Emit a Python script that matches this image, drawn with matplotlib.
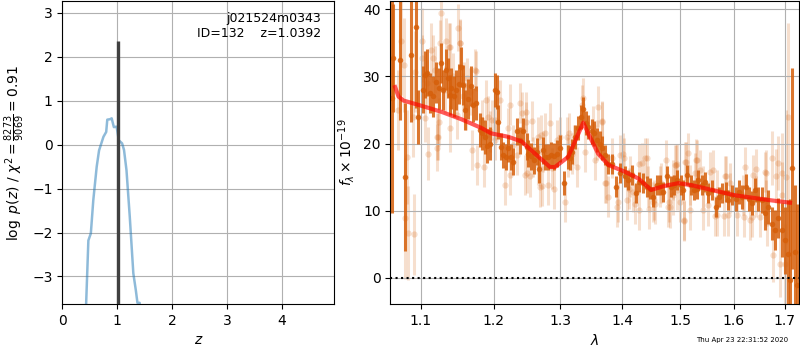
import matplotlib
matplotlib.use('Agg')
import matplotlib.pyplot as plt
from matplotlib.ticker import FixedLocator, NullLocator, FormatStrFormatter

# ---- p(z) panel ----
z_grid = [0.40, 0.434, 0.475, 0.52, 0.565, 0.627, 0.67, 0.75, 0.80, 0.82, 0.87, 0.90,
          0.94, 0.99, 1.03, 1.09, 1.125, 1.17, 1.23, 1.295, 1.34, 1.37, 1.41, 1.43]
logpz = [-4.5, -3.63, -2.18, -2.02, -1.26, -0.5, -0.13, 0.18, 0.29, 0.57, 0.58, 0.6,
         0.4, 0.41, 0.1, 0.03, -0.12, -0.58, -1.64, -2.93, -3.31, -3.6, -3.6, -4.5]
z_bar = 1.015
bar_top = 2.36

# ---- spectrum panel: darker points ----
dark_wave = [1.0629, 1.0642, 1.0727, 1.0799, 1.0869, 1.0942, 1.0964, 1.1030, 1.1053, 1.1087,
             1.1119, 1.1163, 1.1207, 1.1239, 1.1266, 1.1297, 1.1342, 1.1365, 1.1388, 1.1410,
             1.1447, 1.1478, 1.1511, 1.1539, 1.1571, 1.1603, 1.1640, 1.1678, 1.1710, 1.1756,
             1.1804, 1.1837, 1.1875, 1.1912, 1.1946, 1.2026, 1.2047, 1.2070, 1.2109, 1.2142,
             1.2177, 1.2215, 1.2255, 1.2288, 1.2338, 1.2387, 1.2436, 1.2487, 1.2511, 1.2551,
             1.2601, 1.2637, 1.2676, 1.2737, 1.2763, 1.2813, 1.2855, 1.2906, 1.2943, 1.2994,
             1.3061, 1.3114, 1.3151, 1.3187, 1.3229, 1.3282, 1.3325, 1.3361, 1.3400, 1.3442,
             1.3496, 1.3538, 1.3577, 1.3631, 1.3668, 1.3712, 1.3766, 1.3822, 1.3893, 1.3960,
             1.4043, 1.4099, 1.4156, 1.4229, 1.4285, 1.4354, 1.4412, 1.4469, 1.4516, 1.4585,
             1.4643, 1.4701, 1.4761, 1.4832, 1.4891, 1.4949, 1.5010, 1.5057, 1.5129, 1.5191,
             1.5251, 1.5311, 1.5330, 1.5392, 1.5453, 1.5514, 1.5577, 1.5652, 1.5714, 1.5776,
             1.5840, 1.5890, 1.5966, 1.6031, 1.6094, 1.6158, 1.6224, 1.6288, 1.6352, 1.6405,
             1.6470, 1.6537, 1.6602, 1.6668, 1.6748, 1.6816, 1.6869, 1.6938, 1.7005, 1.7060,
             1.7107, 1.7154, 1.7210, 1.7260]
dark_flux = [26.7, 32.7, 32.5, 15.0, 33.2, 37.3, 24.0, 28.0, 30.2, 30.5,
             27.5, 27.0, 29.1, 28.2, 32.0, 28.0, 31.0, 29.7, 27.2, 28.2,
             27.0, 28.0, 28.9, 31.4, 28.7, 25.0, 26.6, 28.6, 25.7, 26.0,
             22.0, 21.5, 21.0, 19.6, 20.0, 28.0, 27.7, 23.2, 19.5, 18.3,
             18.0, 19.3, 18.0, 17.3, 21.8, 20.5, 21.8, 19.5, 18.5, 18.1,
             17.5, 18.8, 16.2, 19.0, 18.0, 18.0, 18.3, 18.1, 18.5, 19.3,
             14.1, 18.0, 17.8, 18.8, 21.0, 22.3, 24.0, 25.1, 23.0, 22.5,
             21.8, 21.5, 20.5, 20.0, 19.3, 18.3, 17.0, 17.0, 13.6, 15.6,
             15.1, 14.6, 15.3, 12.7, 14.3, 14.1, 13.6, 13.3, 12.1, 13.8,
             13.8, 12.8, 15.1, 13.6, 13.8, 14.6, 13.8, 13.1, 15.3, 13.8,
             13.1, 13.3, 14.6, 13.8, 14.3, 12.6, 13.1, 10.6, 12.1, 12.6,
             12.8, 11.6, 12.3, 11.7, 12.8, 12.1, 13.6, 11.8, 11.1, 13.1,
             11.8, 11.6, 9.6, 10.6, 8.1, 7.1, 8.9, 7.1, 5.6, 3.6,
             -0.3, 16.3, 3.9, -1.0]
dark_err = [17, 8, 9, 11, 10, 12, 4, 3.5, 3.5, 3.5,
            3, 3, 3, 3, 3, 3, 3, 3, 3, 3,
            3, 3, 3, 3, 3, 3, 3, 3, 2.5, 2.5,
            2.5, 2.5, 2.5, 2.5, 2.5, 2.5, 2.5, 2.5, 2, 2,
            2, 2, 2, 2, 2, 2, 2, 2, 2, 2,
            2, 2, 2, 2, 2, 2, 2, 2, 2, 2,
            1.8, 1.8, 1.8, 1.8, 1.8, 1.8, 1.8, 1.8, 1.8, 1.8,
            1.8, 1.8, 1.8, 1.8, 1.8, 1.5, 1.5, 1.5, 1.5, 1.5,
            1.5, 1.5, 1.5, 1.5, 1.5, 1.5, 1.5, 1.5, 1.5, 1.5,
            1.5, 1.5, 1.5, 1.5, 1.5, 1.5, 1.5, 1.5, 1.5, 1.5,
            1.5, 1.5, 1.5, 1.5, 1.5, 1.5, 1.5, 1.5, 1.5, 1.5,
            1.5, 1.5, 1.5, 1.8, 1.8, 1.8, 1.8, 1.8, 1.8, 1.8,
            1.8, 2, 2.5, 2.5, 2.5, 3, 3, 4, 5, 8,
            12, 15, 10, 12]

# ---- spectrum panel: lighter points ----
light_wave = [1.0705, 1.0748, 1.0779, 1.0799, 1.0825, 1.0830, 1.0899, 1.0912, 1.0921, 1.1021,
              1.1096, 1.1140, 1.1217, 1.1221, 1.1239, 1.1266, 1.1342, 1.1388, 1.1396, 1.1502,
              1.1525, 1.1585, 1.1617, 1.1700, 1.1756, 1.1770, 1.1865, 1.1893, 1.1922, 1.2018,
              1.2094, 1.2166, 1.2215, 1.2240, 1.2387, 1.2421, 1.2472, 1.2487, 1.2536, 1.2571,
              1.2702, 1.2713, 1.2763, 1.2844, 1.2875, 1.2906, 1.2994, 1.3072, 1.3099, 1.3135,
              1.3218, 1.3345, 1.3389, 1.3522, 1.3603, 1.3658, 1.3668, 1.3712, 1.3729, 1.3766,
              1.3905, 1.3931, 1.4015, 1.4027, 1.4183, 1.4212, 1.4285, 1.4327, 1.4412, 1.4457,
              1.4526, 1.4556, 1.4750, 1.4791, 1.4869, 1.4910, 1.4949, 1.4997, 1.5069, 1.5105,
              1.5147, 1.5178, 1.5269, 1.5300, 1.5514, 1.5607, 1.5639, 1.5814, 1.5840, 1.5923,
              1.6051, 1.6197, 1.6210, 1.6307, 1.6372, 1.6438, 1.6504, 1.6636, 1.6645, 1.6748,
              1.6760, 1.6836, 1.6869, 1.6903, 1.6938, 1.6950, 1.7005, 1.7020, 1.7073,
              1.1013, 1.1167, 1.1257, 1.1383, 1.1529, 1.1190, 1.1057, 1.1234, 1.1484, 1.1622,
              1.1738, 1.1950, 1.2476, 1.2661, 1.2461, 1.2686, 1.2813, 1.2240, 1.2655, 1.2943,
              1.3256, 1.3351, 1.3549, 1.3960, 1.4072, 1.4116, 1.4290, 1.4383, 1.4538, 1.4643,
              1.4820, 1.4927, 1.5087, 1.5080, 1.5287, 1.5361, 1.5422, 1.5546, 1.5671, 1.5827,
              1.5890, 1.6341, 1.6602, 1.4800, 1.4939,
              1.1079, 1.1324, 1.1437, 1.1575, 1.1668, 1.1832, 1.1973, 1.2022, 1.2288, 1.2338,
              1.2586, 1.2737, 1.3123, 1.3177, 1.3577, 1.3822, 1.4127, 1.4445, 1.4667, 1.4879,
              1.5178, 1.5422, 1.5671, 1.5923, 1.6178, 1.6438, 1.6636]
light_flux = [25.0, 35.2, 31.7, 8.9, 18.0, 6.7, 24.0, 6.5, 30.7, 35.2,
              18.5, 33.9, 19.4, 21.0, 23.2, 39.4, 35.2, 34.4, 22.3, 37.2,
              35.0, 28.7, 25.5, 19.0, 30.8, 16.8, 16.5, 26.5, 24.0, 23.5,
              26.5, 13.8, 22.3, 25.8, 26.0, 24.6, 24.7, 15.6, 15.1, 23.4,
              21.3, 13.7, 21.5, 23.0, 16.3, 13.3, 21.0, 11.3, 21.0, 21.6,
              19.8, 25.7, 18.8, 22.6, 25.5, 23.4, 23.2, 14.1, 14.2, 12.1,
              10.6, 11.3, 18.5, 17.8, 12.8, 11.0, 10.1, 17.1, 17.8, 10.3,
              11.3, 11.0, 17.5, 10.6, 12.3, 16.8, 17.0, 11.3, 8.6, 17.3,
              18.6, 10.1, 15.6, 17.5, 10.8, 16.1, 9.2, 9.2, 15.2, 14.1,
              9.3, 9.1, 16.5, 8.6, 15.3, 16.2, 9.1, 15.6, 8.2, 17.9,
              3.4, 15.2, 17.1, 2.1, 12.3, 15.6, 2.1, 15.0, 24.0,
              32.7, 32.7, 34.9, 34.4, 34.9, 31.0, 23.8, 21.0, 24.2, 29.7,
              31.0, 21.8, 23.2, 21.0, 15.3, 13.6, 13.8, 15.3, 16.8, 20.5,
              16.5, 26.7, 17.5, 18.3, 11.6, 13.3, 17.0, 17.8, 11.6, 13.6,
              10.5, 16.8, 17.3, 8.5, 17.6, 16.1, 10.1, 15.8, 9.3, 15.1,
              9.3, 9.1, 15.8, 11.3, 13.1,
              29.0, 28.0, 30.0, 27.0, 27.7, 23.5, 23.5, 20.5, 19.8, 18.3,
              18.0, 18.8, 18.0, 18.5, 20.5, 17.8, 15.1, 13.6, 14.1, 14.6,
              13.8, 13.6, 13.1, 12.6, 12.3, 12.1, 11.6]
light_err = [6, 8, 7, 9, 7, 7, 6, 6, 6, 5,
             4, 4, 3.5, 3.5, 3.5, 4, 3.5, 3.5, 3.5, 3.5,
             3.5, 3.5, 3.5, 3, 3, 3, 3, 3, 3, 3,
             3, 3, 3, 3, 3, 3, 3, 3, 3, 3,
             3, 3, 3, 3, 3, 3, 3, 3, 3, 3,
             3, 3, 3, 3, 3, 3, 3, 3, 3, 3,
             3, 3, 3, 3, 3, 3, 3, 3, 3, 3,
             3, 3, 3, 3, 3, 3, 3, 3, 3, 3,
             3, 3, 3, 3, 3, 3, 3, 3, 3, 3,
             3, 3, 3, 3, 3, 3, 3, 3.5, 3.5, 4,
             4, 4, 4, 5, 5, 6, 6, 10, 14,
             3.5, 3.5, 3.5, 3.5, 3.5, 3.5, 3.5, 3.5, 3.5, 3,
             3, 3, 3, 3, 3, 3, 3, 3, 3, 3,
             3, 3, 3, 3, 3, 3, 3, 3, 3, 3,
             3, 3, 3, 3, 3, 3, 3, 3, 3, 3,
             3, 3, 3, 3, 3,
             3.5, 3.5, 3.5, 3.5, 3.5, 3, 3, 3, 3, 3,
             3, 3, 3, 3, 3, 3, 3, 3, 3, 3,
             3, 3, 3, 3, 3, 3, 3]

# ---- best-fit model ----
model_wave = [1.0667, 1.071, 1.0773, 1.1013, 1.128, 1.155, 1.183, 1.197, 1.2214, 1.241,
              1.261, 1.284, 1.2916, 1.312, 1.336, 1.344, 1.360, 1.377, 1.4045, 1.427,
              1.449, 1.473, 1.497, 1.521, 1.558, 1.602, 1.667, 1.711]
model_flux = [28.4, 27.0, 26.4, 25.6, 24.7, 23.6, 22.3, 21.5, 21.0, 20.3,
              18.5, 16.5, 16.5, 18.0, 23.1, 21.5, 18.5, 16.8, 15.8, 14.8,
              13.1, 13.7, 14.1, 13.8, 13.1, 12.3, 11.6, 11.2]

wave_ticks = [1.1, 1.2, 1.3, 1.4, 1.5, 1.6, 1.7]

orange = '#d65f0a'

fig = plt.figure(figsize=(8, 3.5), dpi=100)

#left panel: redshift probability
ax1 = fig.add_axes([0.0779, 0.131, 0.34, 0.866])
ax1.plot(z_grid, logpz, color='tab:blue', alpha=0.5, lw=1.8)
ax1.vlines(z_bar, -10, bar_top, color='0.25', lw=2.4, zorder=3)
ax1.set_xlim(0, 4.96)
ax1.set_ylim(-3.63, 3.27)
ax1.set_xticks([0, 1, 2, 3, 4])
ax1.set_yticks([-3, -2, -1, 0, 1, 2, 3])
ax1.grid()
ax1.set_xlabel('$z$')
ax1.set_ylabel(r'$\log\ p(z)$ / $\chi^2=\frac{8273}{9069}=0.91$')
ax1.text(0.95, 0.965, 'j021524m0343\nID=132    z=1.0392', ha='right', va='top',
         transform=ax1.transAxes, fontsize=9)

#right panel: spectrum + model
ax2 = fig.add_axes([0.488, 0.131, 0.511, 0.866])
ax2.errorbar(light_wave, light_flux, yerr=light_err, fmt='o', color=orange, alpha=0.2,
             ms=4.5, elinewidth=2.2, mew=0, zorder=1)
ax2.errorbar(dark_wave, dark_flux, yerr=dark_err, fmt='o', color=orange, alpha=0.85,
             ms=4, elinewidth=2.2, mew=0, zorder=2)
ax2.plot(model_wave, model_flux, color='r', alpha=0.65, lw=3, zorder=3)
ax2.axhline(0, color='k', ls=':', lw=1.5, zorder=4)
ax2.set_xscale('log')
ax2.xaxis.set_major_locator(FixedLocator(wave_ticks))
ax2.xaxis.set_minor_locator(NullLocator())
ax2.xaxis.set_major_formatter(FormatStrFormatter('%.1f'))
ax2.set_xlim(1.0607, 1.730)
ax2.set_ylim(-3.9, 41.2)
ax2.set_yticks([0, 10, 20, 30, 40])
ax2.grid()
ax2.set_xlabel(r'$\lambda$')
ax2.set_ylabel(r'$f_\lambda\times10^{-19}$')

fig.text(0.985, 0.022, 'Thu Apr 23 22:31:52 2020', ha='right', fontsize=5)

plt.savefig('out.png', dpi=100)
